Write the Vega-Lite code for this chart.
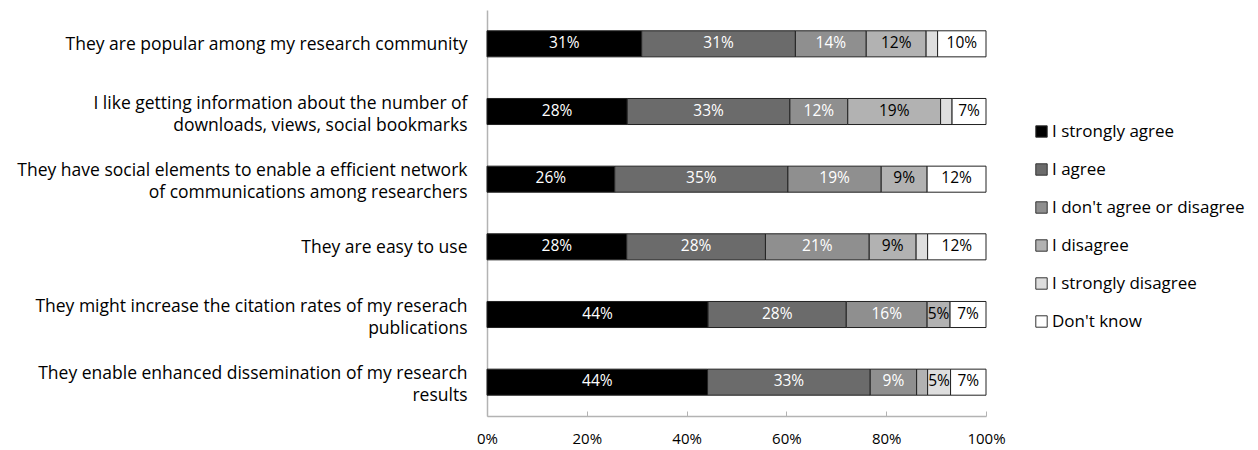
{
  "$schema": "https://vega.github.io/schema/vega-lite/v6.json",
  "width": 499,
  "height": 406,
  "autosize": {"type": "none"},
  "padding": {"left": 487, "top": 10, "right": 272, "bottom": 34},
  "background": "white",
  "config": {
    "view": {"stroke": null},
    "font": "Open Sans",
    "axis": {"labelFont": "Open Sans", "labelColor": "#000000", "domainColor": "#b3b3b3", "domainWidth": 1.5, "grid": false, "title": null},
    "legend": {"labelFont": "Open Sans"}
  },
  "data": {
    "values": [
      {"q": "They are popular among my research community", "r": "I strongly agree", "k": 1, "v": 0.310},
      {"q": "They are popular among my research community", "r": "I agree", "k": 2, "v": 0.308},
      {"q": "They are popular among my research community", "r": "I don't agree or disagree", "k": 3, "v": 0.142},
      {"q": "They are popular among my research community", "r": "I disagree", "k": 4, "v": 0.120},
      {"q": "They are popular among my research community", "r": "I strongly disagree", "k": 5, "v": 0.023},
      {"q": "They are popular among my research community", "r": "Don't know", "k": 6, "v": 0.097},
      {"q": "I like getting information about the number of|downloads, views, social bookmarks", "r": "I strongly agree", "k": 1, "v": 0.281},
      {"q": "I like getting information about the number of|downloads, views, social bookmarks", "r": "I agree", "k": 2, "v": 0.326},
      {"q": "I like getting information about the number of|downloads, views, social bookmarks", "r": "I don't agree or disagree", "k": 3, "v": 0.116},
      {"q": "I like getting information about the number of|downloads, views, social bookmarks", "r": "I disagree", "k": 4, "v": 0.186},
      {"q": "I like getting information about the number of|downloads, views, social bookmarks", "r": "I strongly disagree", "k": 5, "v": 0.023},
      {"q": "I like getting information about the number of|downloads, views, social bookmarks", "r": "Don't know", "k": 6, "v": 0.068},
      {"q": "They have social elements to enable a efficient network|of communications among researchers", "r": "I strongly agree", "k": 1, "v": 0.256},
      {"q": "They have social elements to enable a efficient network|of communications among researchers", "r": "I agree", "k": 2, "v": 0.347},
      {"q": "They have social elements to enable a efficient network|of communications among researchers", "r": "I don't agree or disagree", "k": 3, "v": 0.187},
      {"q": "They have social elements to enable a efficient network|of communications among researchers", "r": "I disagree", "k": 4, "v": 0.092},
      {"q": "They have social elements to enable a efficient network|of communications among researchers", "r": "Don't know", "k": 6, "v": 0.118},
      {"q": "They are easy to use", "r": "I strongly agree", "k": 1, "v": 0.280},
      {"q": "They are easy to use", "r": "I agree", "k": 2, "v": 0.278},
      {"q": "They are easy to use", "r": "I don't agree or disagree", "k": 3, "v": 0.208},
      {"q": "They are easy to use", "r": "I disagree", "k": 4, "v": 0.094},
      {"q": "They are easy to use", "r": "I strongly disagree", "k": 5, "v": 0.023},
      {"q": "They are easy to use", "r": "Don't know", "k": 6, "v": 0.117},
      {"q": "They might increase the citation rates of my reserach|publications", "r": "I strongly agree", "k": 1, "v": 0.443},
      {"q": "They might increase the citation rates of my reserach|publications", "r": "I agree", "k": 2, "v": 0.277},
      {"q": "They might increase the citation rates of my reserach|publications", "r": "I don't agree or disagree", "k": 3, "v": 0.162},
      {"q": "They might increase the citation rates of my reserach|publications", "r": "I disagree", "k": 4, "v": 0.046},
      {"q": "They might increase the citation rates of my reserach|publications", "r": "Don't know", "k": 6, "v": 0.072},
      {"q": "They enable enhanced dissemination of my research|results", "r": "I strongly agree", "k": 1, "v": 0.442},
      {"q": "They enable enhanced dissemination of my research|results", "r": "I agree", "k": 2, "v": 0.326},
      {"q": "They enable enhanced dissemination of my research|results", "r": "I don't agree or disagree", "k": 3, "v": 0.093},
      {"q": "They enable enhanced dissemination of my research|results", "r": "I disagree", "k": 4, "v": 0.022},
      {"q": "They enable enhanced dissemination of my research|results", "r": "I strongly disagree", "k": 5, "v": 0.046},
      {"q": "They enable enhanced dissemination of my research|results", "r": "Don't know", "k": 6, "v": 0.071}
    ]
  },
  "encoding": {
    "y": {
      "field": "q", "type": "nominal", "sort": null,
      "scale": {"paddingInner": 0.615, "paddingOuter": 0.3075},
      "axis": {
        "labelExpr": "split(datum.label, '|')", "labelFontSize": 17.5, "labelLineHeight": 22, "labelPadding": 20, "ticks": false, "labelLimit": 700,
        "labelOffset": {"condition": {"test": "indexof(datum.value, '|') >= 0", "value": -8}, "value": 1}
      }
    }
  },
  "layer": [
    {
      "mark": {"type": "bar", "stroke": "#222222", "strokeWidth": 1},
      "encoding": {
        "x": {
          "field": "v", "type": "quantitative", "stack": "zero",
          "scale": {"domain": [0, 1]},
          "axis": {"format": ".0%", "values": [0, 0.2, 0.4, 0.6, 0.8, 1], "tickSize": -5, "tickColor": "#b3b3b3", "labelFontSize": 15, "labelPadding": 20, "labelFlush": false}
        },
        "color": {
          "field": "r", "type": "nominal",
          "sort": ["I strongly agree", "I agree", "I don't agree or disagree", "I disagree", "I strongly disagree", "Don't know"],
          "scale": {
            "domain": ["I strongly agree", "I agree", "I don't agree or disagree", "I disagree", "I strongly disagree", "Don't know"],
            "range": ["#000000", "#6b6b6b", "#8f8f8f", "#b2b2b2", "#dedede", "#ffffff"]
          },
          "legend": {
            "title": null, "orient": "none", "legendX": 546, "legendY": 113,
            "symbolType": "square", "symbolSize": 130, "symbolStrokeColor": "#333333", "symbolStrokeWidth": 1,
            "labelFontSize": 17, "labelColor": "#000000", "rowPadding": 20, "labelOffset": 2, "labelLimit": 400, "symbolOpacity": 1
          }
        },
        "order": {"field": "k", "type": "quantitative"}
      }
    },
    {
      "transform": [
        {"stack": "v", "groupby": ["q"], "sort": [{"field": "k", "order": "ascending"}], "as": ["v0", "v1"]},
        {"fold": ["v0", "v1"], "as": ["edge", "pos"]}
      ],
      "mark": {"type": "text", "fontSize": 15.5, "baseline": "middle", "align": "center", "dy": -1},
      "encoding": {
        "x": {"aggregate": "mean", "field": "pos", "type": "quantitative", "stack": null},
        "detail": [{"field": "r"}, {"field": "k"}, {"field": "v"}],
        "text": {"field": "v", "type": "quantitative", "format": ".0%"},
        "color": {
          "condition": {"test": "datum.k <= 3", "value": "#ffffff"},
          "value": "#000000"
        },
        "opacity": {"condition": {"test": "datum.v < 0.04", "value": 0}, "value": 1}
      }
    }
  ]
}
